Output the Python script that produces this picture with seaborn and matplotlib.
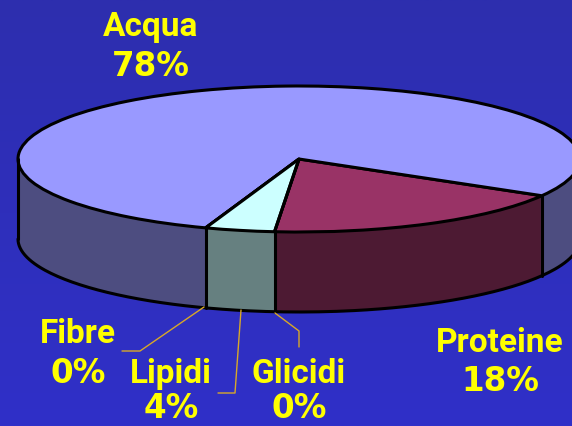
import numpy as np
import matplotlib
matplotlib.use("Agg")
import matplotlib.pyplot as plt
from matplotlib.colors import LinearSegmentedColormap
import seaborn as sns

labels = ["Proteine", "Acqua", "Fibre", "Lipidi", "Glicidi"]
values = [18, 78, 0, 4, 0]
top_colors = ["#993366", "#9999FF", "#FFFFFF", "#CCFFFF", "#FFFF99"]
side_colors = ["#4D1A33", "#4D4D80", "#808080", "#668080", "#808050"]

BG_TOP = "#2D2EAE"
BG_BOTTOM = "#3030C8"
YELLOW = "#FFFF00"
LEADER = "#D8A828"
W, H = 572, 426
CX, CY, RX, RY, DEPTH = 299, 159, 281, 73, 80
START = -95

sns.set_theme(style="white", rc={"font.family": ["DejaVu Sans"], "font.weight": "bold"})

fig = plt.figure(figsize=(W / 100, H / 100), dpi=100, facecolor=BG_BOTTOM)
ax = fig.add_axes([0, 0, 1, 1])


def px(x, y):
    # picture pixels to pie units
    return (x - CX) / RX, (CY - y) / RY


depth = DEPTH / RY

# side wall, stacked from the bottom up
for off in np.arange(depth, 0, -0.5 / RY):
    ax.pie(values, colors=side_colors, startangle=START, center=(0, -off),
           wedgeprops={"linewidth": 0.6, "edgecolor": "none"})

ax.pie(values, colors=top_colors, startangle=START,
       wedgeprops={"linewidth": 2.2, "edgecolor": "black", "joinstyle": "round"})

x0, x1 = px(0, 0)[0], px(W, 0)[0]
y0, y1 = px(0, H)[1], px(0, 0)[1]

# background fades slightly from top to bottom
grad = LinearSegmentedColormap.from_list("bg", [BG_TOP, BG_BOTTOM])
ax.imshow(np.linspace(0, 1, 256).reshape(-1, 1), cmap=grad, aspect="auto",
          extent=(x0, x1, y0, y1), origin="upper", zorder=0)

ax.set_aspect("auto")
ax.set_xlim(x0, x1)
ax.set_ylim(y0, y1)

# bottom rim and the vertical edges of the wall
t = np.radians(np.linspace(180, 360, 200))
ax.plot(np.cos(t), np.sin(t) - depth, color="black", lw=2.2)
ax.plot([-1, -1], [0, -depth], color="black", lw=2.2)
edges = START + np.cumsum([0] + values) * 3.6
for a in [edges[0], edges[1], edges[3]]:
    x, y = np.cos(np.radians(a)), np.sin(np.radians(a))
    ax.plot([x, x], [y, y - depth], color="black", lw=2.2)

# leader lines
leaders = {
    "Fibre": [(204, 307), (140, 351), (122, 351)],
    "Lipidi": [(241, 310), (235, 393), (218, 393)],
    "Glicidi": [(275, 313), (299, 331), (299, 347)],
}
for pts in leaders.values():
    xy = np.array([px(*p) for p in pts])
    ax.plot(xy[:, 0], xy[:, 1], color=LEADER, lw=1)

# x centre, name baseline, percent baseline
label_pos = {
    "Acqua": (151, 36, 76),
    "Proteine": (500, 352, 391),
    "Fibre": (78, 343, 383),
    "Lipidi": (171, 383, 418),
    "Glicidi": (299, 383, 418),
}
for name, val in zip(labels, values):
    cx, name_y, val_y = label_pos[name]
    ax.text(*px(cx, name_y), name, color=YELLOW, fontsize=24, fontweight="bold",
            family="Roboto", ha="center", va="baseline")
    ax.text(*px(cx, val_y), f"{val}%", color=YELLOW, fontsize=23.5, fontweight="bold",
            ha="center", va="baseline")

fig.savefig("out.png", dpi=100)
